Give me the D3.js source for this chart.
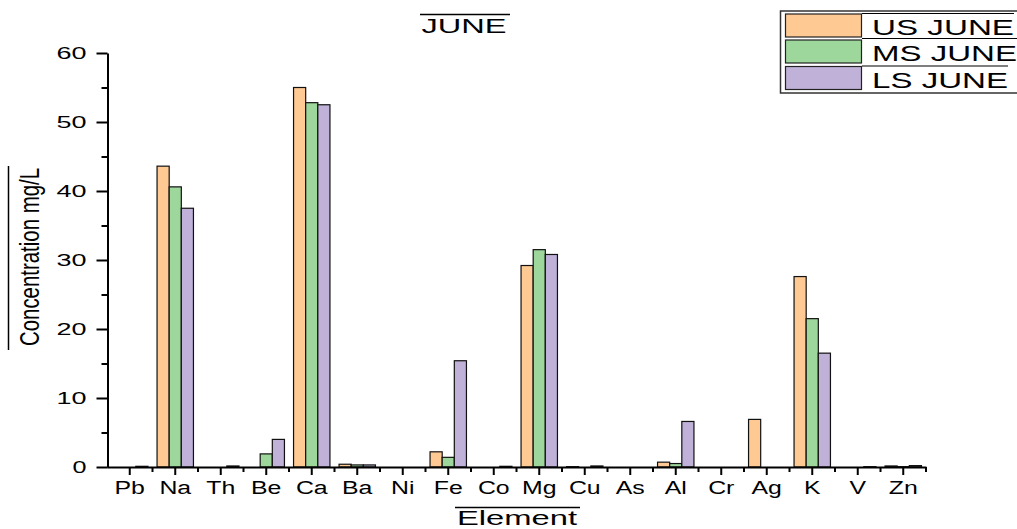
<!DOCTYPE html>
<html>
<head>
<meta charset="utf-8">
<script src="https://cdn.jsdelivr.net/npm/d3@7/dist/d3.min.js"></script>
<style>
  html, body { margin: 0; padding: 0; background: #fff; }
  svg { display: block; font-family: "Liberation Sans", Arial, sans-serif; }
</style>
</head>
<body>
<svg id="chart" width="1017" height="529"></svg>
<script>
const categories = ["Pb","Na","Th","Be","Ca","Ba","Ni","Fe","Co","Mg","Cu","As","Al","Cr","Ag","K","V","Zn"];
const seriesNames = ["US JUNE","MS JUNE","LS JUNE"];
const usJune = [0, 43.6, 0, 0, 55.0, 0.4, 0, 2.2, 0, 29.2, 0.05, 0, 0.7, 0, 6.9, 27.6, 0, 0.15];
const msJune = [0, 40.6, 0, 1.9, 52.8, 0.3, 0, 1.4, 0, 31.5, 0, 0, 0.5, 0, 0, 21.5, 0, 0.05];
const lsJune = [0.1, 37.5, 0.15, 4.0, 52.5, 0.3, 0, 15.4, 0.1, 30.8, 0.15, 0, 6.6, 0, 0, 16.5, 0.05, 0.2];
const yTicks = [0, 10, 20, 30, 40, 50, 60];
const yMinorTicks = [5, 15, 25, 35, 45, 55];
const colors = ["#FFC994", "#9ED79C", "#BFB1D7"];

const seriesValues = [usJune, msJune, lsJune];
const svg = d3.select("#chart");

const x0 = d3.scaleBand().domain(categories).range([107, 926]).padding(0);
const bw = x0.bandwidth();
const x1 = d3.scaleBand().domain(seriesNames).range([bw * 0.1, bw * 0.9]).padding(0);
const y = d3.scaleLinear().domain([0, 60]).range([467, 53]);

// bars
const groups = svg.append("g").selectAll("g")
  .data(categories)
  .join("g")
  .attr("transform", d => `translate(${x0(d)},0)`);

groups.selectAll("rect")
  .data((d, i) => seriesNames.map((s, k) => ({ s, k, v: seriesValues[k][i] })))
  .join("rect")
  .attr("x", d => x1(d.s))
  .attr("width", x1.bandwidth())
  .attr("y", d => y(d.v))
  .attr("height", d => y(0) - y(d.v))
  .attr("fill", d => colors[d.k])
  .attr("stroke", "#111")
  .attr("stroke-width", d => d.v > 0 ? 1.2 : 0);

// y axis
const yAxis = svg.append("g").attr("transform", "translate(107.5,0)")
  .call(d3.axisLeft(y).tickValues(yTicks).tickSize(11).tickSizeOuter(0).tickPadding(0));
yAxis.select(".domain").attr("stroke", "#000").attr("stroke-width", 2);
yAxis.selectAll(".tick line").attr("stroke", "#000").attr("stroke-width", 2);
yAxis.selectAll(".tick text")
  .attr("x", -21)
  .attr("font-size", 16)
  .attr("fill", "#000")
  .attr("font-family", "'Liberation Sans', Arial, sans-serif")
  .attr("textLength", d => d === 0 ? 14 : 30)
  .attr("lengthAdjust", "spacingAndGlyphs");
const yMinor = svg.append("g").attr("transform", "translate(107.5,0)")
  .call(d3.axisLeft(y).tickValues(yMinorTicks).tickSize(6).tickFormat(""));
yMinor.select(".domain").remove();
yMinor.selectAll(".tick line").attr("stroke", "#000").attr("stroke-width", 2);

// x axis
const xAxis = svg.append("g").attr("transform", "translate(0,467)")
  .call(d3.axisBottom(x0).tickSize(8).tickSizeOuter(0).tickPadding(5));
xAxis.select(".domain").attr("stroke", "#000").attr("stroke-width", 2);
xAxis.selectAll(".tick line").attr("stroke", "#000").attr("stroke-width", 2);
xAxis.selectAll(".tick text")
  .attr("font-size", 18)
  .attr("fill", "#000")
  .attr("font-family", "'Liberation Sans', Arial, sans-serif")
  .attr("y", 27)
  .attr("dy", 0)
  .attr("transform", "scale(1.38,1)");
// minor x ticks at band boundaries
const boundaries = categories.slice(1).map(c => x0(c)).concat([x0.range()[1]]);
svg.append("g").selectAll("line")
  .data(boundaries)
  .join("line")
  .attr("x1", d => d).attr("x2", d => d)
  .attr("y1", 467).attr("y2", 472)
  .attr("stroke", "#000").attr("stroke-width", 2);

// title
svg.append("text")
  .attr("x", 464).attr("y", 33)
  .attr("text-anchor", "middle")
  .attr("font-size", 21)
  .attr("textLength", 85).attr("lengthAdjust", "spacingAndGlyphs")
  .text("JUNE");
svg.append("line").attr("x1", 420).attr("x2", 510).attr("y1", 14.5).attr("y2", 14.5)
  .attr("stroke", "#000").attr("stroke-width", 1.5);

// x title
svg.append("text")
  .attr("x", 517).attr("y", 525)
  .attr("text-anchor", "middle")
  .attr("font-size", 20)
  .attr("textLength", 120).attr("lengthAdjust", "spacingAndGlyphs")
  .text("Element");
svg.append("line").attr("x1", 455).attr("x2", 580).attr("y1", 507.5).attr("y2", 507.5)
  .attr("stroke", "#000").attr("stroke-width", 1.5);

// y title
svg.append("text")
  .attr("transform", "translate(39,257) rotate(-90)")
  .attr("text-anchor", "middle")
  .attr("font-size", 27)
  .attr("textLength", 178).attr("lengthAdjust", "spacingAndGlyphs")
  .text("Concentration mg/L");
svg.append("line").attr("x1", 8.5).attr("x2", 8.5).attr("y1", 166).attr("y2", 350)
  .attr("stroke", "#000").attr("stroke-width", 1.5);

// legend
const legend = svg.append("g");
legend.append("path")
  .attr("d", "M1020,11 H780.5 V93 H1020")
  .attr("fill", "none").attr("stroke", "#333").attr("stroke-width", 1.5);
const legRows = [14, 40, 66.5];
const legTextLen = [142, 145, 136];
const legOver = [13.5, 38.5, 66];
seriesNames.forEach((s, k) => {
  legend.append("rect")
    .attr("x", 785.5).attr("y", legRows[k])
    .attr("width", 76).attr("height", 23)
    .attr("fill", colors[k]).attr("stroke", "#222").attr("stroke-width", 1.2);
  legend.append("text")
    .attr("x", 872).attr("y", legRows[k] + 21)
    .attr("font-size", 22.5)
    .attr("textLength", legTextLen[k]).attr("lengthAdjust", "spacingAndGlyphs")
    .text(s);
  legend.append("line")
    .attr("x1", 862).attr("x2", 872 + legTextLen[k])
    .attr("y1", legOver[k]).attr("y2", legOver[k])
    .attr("stroke", "#000").attr("stroke-width", 1.2);
});
</script>
</body>
</html>
